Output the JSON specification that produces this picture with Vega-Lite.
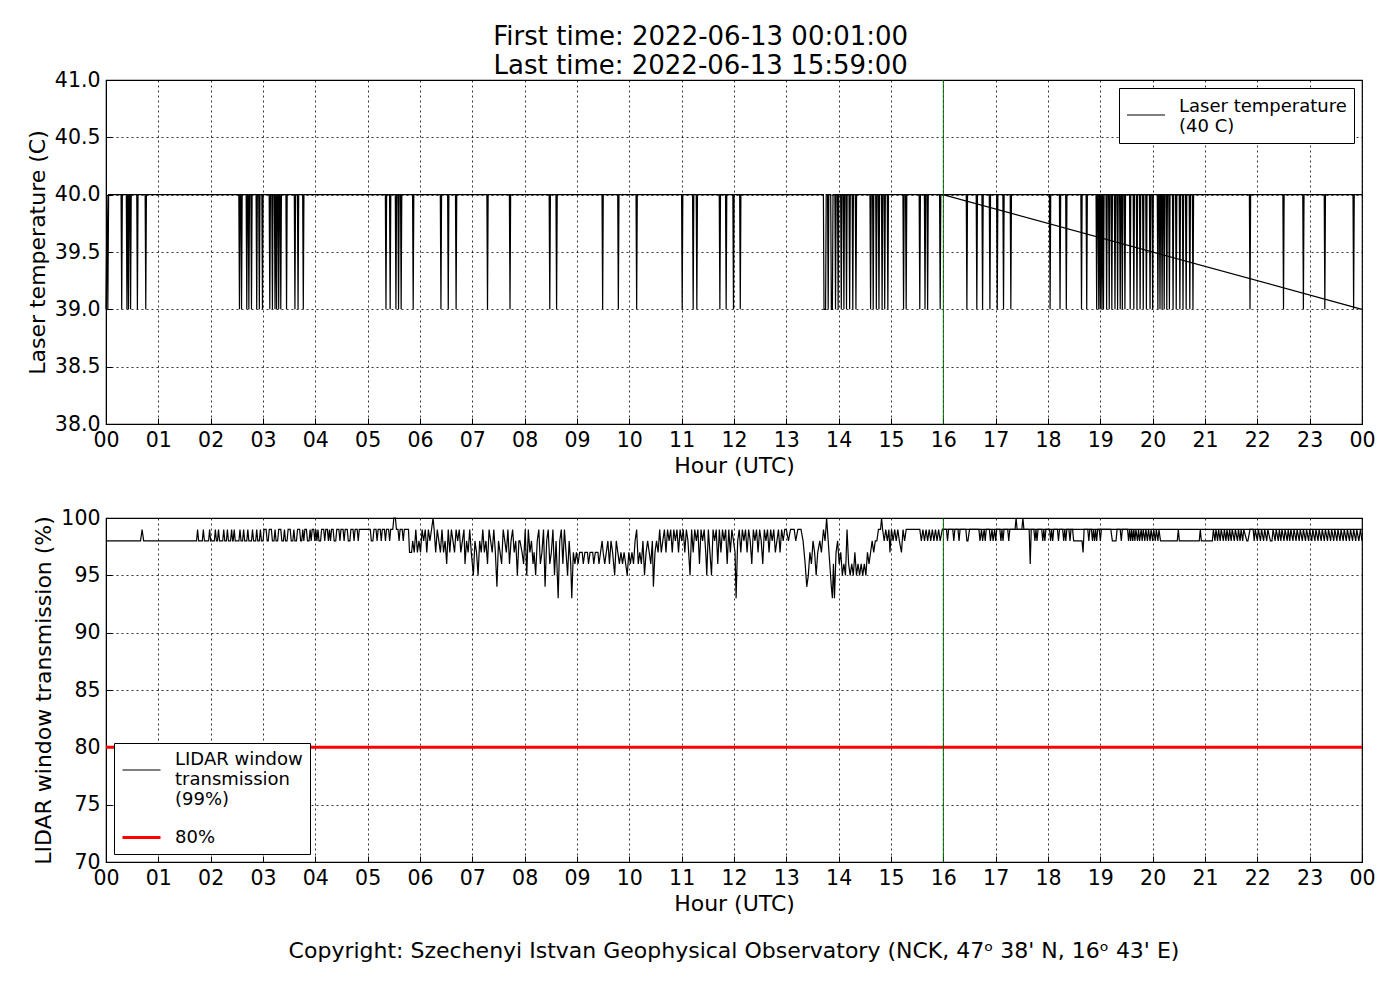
{
  "$schema": "https://vega.github.io/schema/vega-lite/v6.json",
  "background": "white",
  "padding": {"left": 25, "top": 24, "right": 20, "bottom": 10},
  "title": {
    "text": ["First time: 2022-06-13 00:01:00", "Last time: 2022-06-13 15:59:00"],
    "fontSize": 26, "fontWeight": "normal", "font": "DejaVu Sans", "color": "black",
    "anchor": "middle", "lineHeight": 29, "offset": -10
  },
  "config": {
    "font": "DejaVu Sans",
    "view": {"stroke": "black", "strokeWidth": 1.2},
    "axis": {
      "labelFont": "DejaVu Sans", "labelFontSize": 20.5, "labelColor": "black",
      "titleFont": "DejaVu Sans", "titleFontSize": 22, "titleFontWeight": "normal", "titleColor": "black",
      "domainColor": "black", "tickColor": "black", "tickSize": -6, "labelPadding": 12,
      "gridColor": "black", "gridDash": [2, 3], "gridWidth": 0.8, "gridOpacity": 1,
      "labelFlush": false, "labelOverlap": false, "titlePadding": 5
    },
    "legend": {
      "labelFont": "DejaVu Sans", "labelFontSize": 18, "labelColor": "black",
      "strokeColor": "black", "fillColor": "white", "padding": 7, "cornerRadius": 0,
      "labelLimit": 400, "title": null, "offset": 8, "rowPadding": 8
    }
  },
  "resolve": {"scale": {"color": "independent", "strokeWidth": "independent"}, "legend": {"color": "independent", "strokeWidth": "independent"}},
  "spacing": 29,
  "datasets": {
    "temp": [
      {"h":0,"v":39},{"h":0.02,"v":40},{"h":0.035,"v":39},{"h":0.05,"v":40},
      {"h":0.288,"v":40},{"h":0.30,"v":39},{"h":0.312,"v":40},
      {"h":0.388,"v":40},{"h":0.40,"v":39},{"h":0.412,"v":40},
      {"h":0.418,"v":40},{"h":0.43,"v":39},{"h":0.442,"v":40},
      {"h":0.458,"v":40},{"h":0.47,"v":39},{"h":0.482,"v":40},
      {"h":0.588,"v":40},{"h":0.60,"v":39},{"h":0.612,"v":40},
      {"h":0.748,"v":40},{"h":0.76,"v":39},{"h":0.772,"v":40},
      {"h":2.538,"v":40},{"h":2.55,"v":39},{"h":2.562,"v":40},
      {"h":2.578,"v":40},{"h":2.59,"v":39},{"h":2.602,"v":40},
      {"h":2.678,"v":40},{"h":2.69,"v":39},{"h":2.702,"v":40},
      {"h":2.718,"v":40},{"h":2.73,"v":39},{"h":2.742,"v":40},
      {"h":2.768,"v":40},{"h":2.78,"v":39},{"h":2.792,"v":40},
      {"h":2.868,"v":40},{"h":2.88,"v":39},{"h":2.892,"v":40},
      {"h":2.918,"v":40},{"h":2.93,"v":39},{"h":2.942,"v":40},
      {"h":2.978,"v":40},{"h":2.99,"v":39},{"h":3.002,"v":40},
      {"h":3.118,"v":40},{"h":3.13,"v":39},{"h":3.142,"v":40},
      {"h":3.168,"v":40},{"h":3.18,"v":39},{"h":3.192,"v":40},
      {"h":3.218,"v":40},{"h":3.23,"v":39},{"h":3.242,"v":40},
      {"h":3.248,"v":40},{"h":3.26,"v":39},{"h":3.272,"v":40},
      {"h":3.288,"v":40},{"h":3.30,"v":39},{"h":3.312,"v":40},
      {"h":3.328,"v":40},{"h":3.34,"v":39},{"h":3.352,"v":40},
      {"h":3.438,"v":40},{"h":3.45,"v":39},{"h":3.462,"v":40},
      {"h":3.598,"v":40},{"h":3.61,"v":39},{"h":3.622,"v":40},
      {"h":3.658,"v":40},{"h":3.67,"v":39},{"h":3.682,"v":40},
      {"h":3.758,"v":40},{"h":3.77,"v":39},{"h":3.782,"v":40},
      {"h":5.338,"v":40},{"h":5.35,"v":39},{"h":5.362,"v":40},
      {"h":5.418,"v":40},{"h":5.43,"v":39},{"h":5.442,"v":40},
      {"h":5.528,"v":40},{"h":5.54,"v":39},{"h":5.552,"v":40},
      {"h":5.578,"v":40},{"h":5.59,"v":39},{"h":5.602,"v":40},
      {"h":5.628,"v":40},{"h":5.64,"v":39},{"h":5.652,"v":40},
      {"h":5.858,"v":40},{"h":5.87,"v":39},{"h":5.882,"v":40},
      {"h":6.388,"v":40},{"h":6.40,"v":39},{"h":6.412,"v":40},
      {"h":6.528,"v":40},{"h":6.54,"v":39},{"h":6.552,"v":40},
      {"h":6.678,"v":40},{"h":6.69,"v":39},{"h":6.702,"v":40},
      {"h":7.278,"v":40},{"h":7.29,"v":39},{"h":7.302,"v":40},
      {"h":7.708,"v":40},{"h":7.72,"v":39},{"h":7.732,"v":40},
      {"h":8.468,"v":40},{"h":8.48,"v":39},{"h":8.492,"v":40},
      {"h":8.598,"v":40},{"h":8.61,"v":39},{"h":8.622,"v":40},
      {"h":9.478,"v":40},{"h":9.49,"v":39},{"h":9.502,"v":40},
      {"h":9.778,"v":40},{"h":9.79,"v":39},{"h":9.802,"v":40},
      {"h":10.128,"v":40},{"h":10.14,"v":39},{"h":10.152,"v":40},
      {"h":10.998,"v":40},{"h":11.01,"v":39},{"h":11.022,"v":40},
      {"h":11.208,"v":40},{"h":11.22,"v":39},{"h":11.232,"v":40},
      {"h":11.278,"v":40},{"h":11.29,"v":39},{"h":11.302,"v":40},
      {"h":11.718,"v":40},{"h":11.73,"v":39},{"h":11.742,"v":40},
      {"h":11.838,"v":40},{"h":11.85,"v":39},{"h":11.862,"v":40},
      {"h":11.978,"v":40},{"h":11.99,"v":39},{"h":12.002,"v":40},
      {"h":12.108,"v":40},{"h":12.12,"v":39},{"h":12.132,"v":40},
      {"h":13.708,"v":40},{"h":13.72,"v":39},{"h":13.75,"v":39},{"h":13.762,"v":40},
      {"h":13.788,"v":40},{"h":13.80,"v":39},{"h":13.812,"v":40},
      {"h":13.848,"v":40},{"h":13.86,"v":39},{"h":13.88,"v":39},{"h":13.892,"v":40},
      {"h":13.928,"v":40},{"h":13.94,"v":39},{"h":13.952,"v":40},
      {"h":13.978,"v":40},{"h":13.99,"v":39},{"h":14.002,"v":40},
      {"h":14.038,"v":40},{"h":14.05,"v":39},{"h":14.062,"v":40},
      {"h":14.088,"v":40},{"h":14.10,"v":39},{"h":14.112,"v":40},
      {"h":14.138,"v":40},{"h":14.15,"v":39},{"h":14.162,"v":40},
      {"h":14.198,"v":40},{"h":14.21,"v":39},{"h":14.222,"v":40},
      {"h":14.258,"v":40},{"h":14.27,"v":39},{"h":14.282,"v":40},
      {"h":14.318,"v":40},{"h":14.33,"v":39},{"h":14.342,"v":40},
      {"h":14.598,"v":40},{"h":14.61,"v":39},{"h":14.622,"v":40},
      {"h":14.648,"v":40},{"h":14.66,"v":39},{"h":14.672,"v":40},
      {"h":14.708,"v":40},{"h":14.72,"v":39},{"h":14.732,"v":40},
      {"h":14.758,"v":40},{"h":14.77,"v":39},{"h":14.782,"v":40},
      {"h":14.818,"v":40},{"h":14.83,"v":39},{"h":14.842,"v":40},
      {"h":14.868,"v":40},{"h":14.88,"v":39},{"h":14.892,"v":40},
      {"h":14.928,"v":40},{"h":14.94,"v":39},{"h":14.952,"v":40},
      {"h":15.228,"v":40},{"h":15.24,"v":39},{"h":15.252,"v":40},
      {"h":15.278,"v":40},{"h":15.29,"v":39},{"h":15.302,"v":40},
      {"h":15.538,"v":40},{"h":15.55,"v":39},{"h":15.562,"v":40},
      {"h":15.638,"v":40},{"h":15.65,"v":39},{"h":15.662,"v":40},
      {"h":15.688,"v":40},{"h":15.70,"v":39},{"h":15.712,"v":40},
      {"h":15.928,"v":40},{"h":15.94,"v":39},{"h":15.952,"v":40},
      {"h":16.438,"v":40},{"h":16.45,"v":39},{"h":16.462,"v":40},
      {"h":16.628,"v":40},{"h":16.64,"v":39},{"h":16.652,"v":40},
      {"h":16.738,"v":40},{"h":16.75,"v":39},{"h":16.762,"v":40},
      {"h":16.878,"v":40},{"h":16.89,"v":39},{"h":16.902,"v":40},
      {"h":17.018,"v":40},{"h":17.03,"v":39},{"h":17.042,"v":40},
      {"h":17.138,"v":40},{"h":17.15,"v":39},{"h":17.162,"v":40},
      {"h":17.278,"v":40},{"h":17.29,"v":39},{"h":17.302,"v":40},
      {"h":18.028,"v":40},{"h":18.04,"v":39},{"h":18.052,"v":40},
      {"h":18.218,"v":40},{"h":18.23,"v":39},{"h":18.242,"v":40},
      {"h":18.338,"v":40},{"h":18.35,"v":39},{"h":18.362,"v":40},
      {"h":18.628,"v":40},{"h":18.64,"v":39},{"h":18.652,"v":40},
      {"h":18.728,"v":40},{"h":18.74,"v":39},{"h":18.752,"v":40},
      {"h":18.918,"v":40},{"h":18.93,"v":39},{"h":18.942,"v":40},
      {"h":18.958,"v":40},{"h":18.97,"v":39},{"h":18.982,"v":40},
      {"h":18.988,"v":40},{"h":19.00,"v":39},{"h":19.012,"v":40},
      {"h":19.018,"v":40},{"h":19.03,"v":39},{"h":19.042,"v":40},
      {"h":19.048,"v":40},{"h":19.06,"v":39},{"h":19.072,"v":40},
      {"h":19.108,"v":40},{"h":19.12,"v":39},{"h":19.132,"v":40},
      {"h":19.158,"v":40},{"h":19.17,"v":39},{"h":19.182,"v":40},
      {"h":19.208,"v":40},{"h":19.22,"v":39},{"h":19.232,"v":40},
      {"h":19.268,"v":40},{"h":19.28,"v":39},{"h":19.292,"v":40},
      {"h":19.318,"v":40},{"h":19.33,"v":39},{"h":19.342,"v":40},
      {"h":19.368,"v":40},{"h":19.38,"v":39},{"h":19.392,"v":40},
      {"h":19.408,"v":40},{"h":19.42,"v":39},{"h":19.432,"v":40},
      {"h":19.458,"v":40},{"h":19.47,"v":39},{"h":19.482,"v":40},
      {"h":19.558,"v":40},{"h":19.57,"v":39},{"h":19.582,"v":40},
      {"h":19.628,"v":40},{"h":19.64,"v":39},{"h":19.652,"v":40},
      {"h":19.688,"v":40},{"h":19.70,"v":39},{"h":19.712,"v":40},
      {"h":19.748,"v":40},{"h":19.76,"v":39},{"h":19.772,"v":40},
      {"h":19.808,"v":40},{"h":19.82,"v":39},{"h":19.832,"v":40},
      {"h":19.868,"v":40},{"h":19.88,"v":39},{"h":19.892,"v":40},
      {"h":19.938,"v":40},{"h":19.95,"v":39},{"h":19.962,"v":40},
      {"h":19.988,"v":40},{"h":20.00,"v":39},{"h":20.012,"v":40},
      {"h":20.088,"v":40},{"h":20.10,"v":39},{"h":20.112,"v":40},
      {"h":20.128,"v":40},{"h":20.14,"v":39},{"h":20.152,"v":40},
      {"h":20.168,"v":40},{"h":20.18,"v":39},{"h":20.192,"v":40},
      {"h":20.208,"v":40},{"h":20.22,"v":39},{"h":20.232,"v":40},
      {"h":20.258,"v":40},{"h":20.27,"v":39},{"h":20.282,"v":40},
      {"h":20.308,"v":40},{"h":20.32,"v":39},{"h":20.332,"v":40},
      {"h":20.378,"v":40},{"h":20.39,"v":39},{"h":20.402,"v":40},
      {"h":20.438,"v":40},{"h":20.45,"v":39},{"h":20.462,"v":40},
      {"h":20.508,"v":40},{"h":20.52,"v":39},{"h":20.532,"v":40},
      {"h":20.568,"v":40},{"h":20.58,"v":39},{"h":20.592,"v":40},
      {"h":20.628,"v":40},{"h":20.64,"v":39},{"h":20.652,"v":40},
      {"h":20.698,"v":40},{"h":20.71,"v":39},{"h":20.722,"v":40},
      {"h":20.758,"v":40},{"h":20.77,"v":39},{"h":20.782,"v":40},
      {"h":21.848,"v":40},{"h":21.86,"v":39},{"h":21.872,"v":40},
      {"h":22.488,"v":40},{"h":22.50,"v":39},{"h":22.512,"v":40},
      {"h":22.868,"v":40},{"h":22.88,"v":39},{"h":22.892,"v":40},
      {"h":23.278,"v":40},{"h":23.29,"v":39},{"h":23.302,"v":40},
      {"h":23.828,"v":40},{"h":23.84,"v":39},{"h":23.852,"v":40},
      {"h":24,"v":40}
    ],
    "tempwrap": [
      {"h":15.99,"v":40,"s":"Laser temperature (40 C)"},
      {"h":24,"v":39,"s":"Laser temperature (40 C)"}
    ],
    "lidar": [
      {"h":0,"v":98},{"h":0.66,"v":98},{"h":0.69,"v":99},{"h":0.72,"v":98},{"h":1.70,"v":98},
      {"h":1.73,"v":98},{"h":1.75,"v":99},{"h":1.77,"v":98},{"h":1.84,"v":98},{"h":1.86,"v":99},{"h":1.88,"v":98},
      {"h":1.96,"v":98},{"h":1.98,"v":99},{"h":2.00,"v":98},{"h":2.07,"v":98},{"h":2.09,"v":99},{"h":2.11,"v":98},
      {"h":2.13,"v":98},{"h":2.15,"v":99},{"h":2.17,"v":98},{"h":2.23,"v":98},{"h":2.25,"v":99},{"h":2.27,"v":98},
      {"h":2.30,"v":98},{"h":2.32,"v":99},{"h":2.34,"v":98},{"h":2.38,"v":98},{"h":2.40,"v":99},{"h":2.42,"v":98},
      {"h":2.43,"v":98},{"h":2.45,"v":99},{"h":2.47,"v":98},{"h":2.54,"v":98},{"h":2.56,"v":99},{"h":2.58,"v":98},
      {"h":2.61,"v":98},{"h":2.63,"v":99},{"h":2.65,"v":98},{"h":2.69,"v":98},{"h":2.71,"v":99},{"h":2.73,"v":98},
      {"h":2.78,"v":98},{"h":2.80,"v":99},{"h":2.82,"v":98},{"h":2.86,"v":98},{"h":2.88,"v":99},{"h":2.90,"v":98},
      {"h":2.93,"v":98},{"h":2.95,"v":99},{"h":2.97,"v":98},
      {"h":3.00,"v":98},{"h":3.02,"v":99},{"h":3.06,"v":99},{"h":3.08,"v":98},{"h":3.10,"v":98},{"h":3.12,"v":99},
      {"h":3.16,"v":99},{"h":3.18,"v":98},{"h":3.21,"v":98},{"h":3.23,"v":99},{"h":3.25,"v":98},{"h":3.28,"v":98},
      {"h":3.30,"v":99},{"h":3.34,"v":99},{"h":3.36,"v":98},{"h":3.39,"v":98},{"h":3.41,"v":99},{"h":3.43,"v":98},
      {"h":3.46,"v":98},{"h":3.48,"v":99},{"h":3.52,"v":99},{"h":3.54,"v":98},{"h":3.57,"v":98},{"h":3.59,"v":99},
      {"h":3.61,"v":98},{"h":3.64,"v":98},{"h":3.66,"v":99},{"h":3.70,"v":99},{"h":3.72,"v":98},{"h":3.74,"v":98},
      {"h":3.76,"v":99},{"h":3.78,"v":98},{"h":3.80,"v":99},{"h":3.83,"v":99},{"h":3.85,"v":98},{"h":3.88,"v":98},
      {"h":3.90,"v":99},{"h":3.92,"v":98},{"h":3.94,"v":99},{"h":3.97,"v":99},{"h":3.99,"v":98},{"h":4.01,"v":99},
      {"h":4.03,"v":98},{"h":4.05,"v":99},{"h":4.07,"v":98},{"h":4.10,"v":98},{"h":4.12,"v":99},{"h":4.16,"v":99},
      {"h":4.18,"v":98},{"h":4.20,"v":99},{"h":4.23,"v":99},{"h":4.25,"v":98},{"h":4.27,"v":99},{"h":4.29,"v":98},
      {"h":4.31,"v":99},{"h":4.34,"v":99},{"h":4.36,"v":98},{"h":4.39,"v":98},{"h":4.41,"v":99},{"h":4.45,"v":99},
      {"h":4.47,"v":98},{"h":4.49,"v":99},{"h":4.53,"v":99},{"h":4.55,"v":98},{"h":4.57,"v":99},{"h":4.61,"v":99},
      {"h":4.63,"v":98},{"h":4.66,"v":98},{"h":4.68,"v":99},{"h":4.72,"v":99},{"h":4.74,"v":98},{"h":4.76,"v":99},
      {"h":4.80,"v":99},{"h":4.82,"v":98},{"h":4.84,"v":99},{"h":5.05,"v":99},{"h":5.07,"v":98},{"h":5.10,"v":98},
      {"h":5.12,"v":99},{"h":5.16,"v":99},{"h":5.18,"v":98},{"h":5.20,"v":99},{"h":5.24,"v":99},{"h":5.26,"v":98},
      {"h":5.28,"v":99},{"h":5.32,"v":99},{"h":5.34,"v":98},{"h":5.36,"v":99},{"h":5.40,"v":99},{"h":5.42,"v":98},
      {"h":5.44,"v":99},{"h":5.48,"v":99},{"h":5.50,"v":100},{"h":5.53,"v":100},{"h":5.55,"v":99},{"h":5.58,"v":99},
      {"h":5.60,"v":98},{"h":5.62,"v":99},{"h":5.66,"v":99},{"h":5.68,"v":98},{"h":5.70,"v":99},{"h":5.74,"v":99},
      {"h":5.78,"v":99},{"h":5.80,"v":97},{"h":5.84,"v":97},{"h":5.86,"v":98},{"h":5.89,"v":97},{"h":5.92,"v":99},
      {"h":5.95,"v":97},{"h":5.98,"v":98},{"h":6.01,"v":97},{"h":6.04,"v":99},{"h":6.07,"v":98},{"h":6.10,"v":99},
      {"h":6.13,"v":97},{"h":6.16,"v":99},{"h":6.19,"v":98},{"h":6.22,"v":99},{"h":6.25,"v":100},{"h":6.27,"v":99},
      {"h":6.30,"v":97},{"h":6.33,"v":99},{"h":6.36,"v":98},{"h":6.39,"v":97},{"h":6.42,"v":99},{"h":6.45,"v":97},
      {"h":6.48,"v":98},{"h":6.51,"v":96},{"h":6.54,"v":99},{"h":6.57,"v":97},{"h":6.60,"v":99},{"h":6.63,"v":98},
      {"h":6.66,"v":97},{"h":6.69,"v":99},{"h":6.72,"v":98},{"h":6.75,"v":99},{"h":6.78,"v":97},{"h":6.81,"v":98},
      {"h":6.84,"v":99},{"h":6.86,"v":96},{"h":6.89,"v":98},{"h":6.92,"v":97},{"h":6.95,"v":99},{"h":6.98,"v":97},
      {"h":7.02,"v":95},{"h":7.05,"v":98},{"h":7.08,"v":97},{"h":7.11,"v":95},{"h":7.14,"v":98},{"h":7.17,"v":97},
      {"h":7.20,"v":99},{"h":7.23,"v":97},{"h":7.26,"v":98},{"h":7.29,"v":96},{"h":7.32,"v":99},{"h":7.35,"v":98},
      {"h":7.38,"v":97},{"h":7.41,"v":99},{"h":7.44,"v":97},{"h":7.47,"v":94},{"h":7.50,"v":98},{"h":7.53,"v":97},
      {"h":7.56,"v":96},{"h":7.59,"v":99},{"h":7.62,"v":98},{"h":7.65,"v":97},{"h":7.68,"v":99},{"h":7.71,"v":96},
      {"h":7.74,"v":98},{"h":7.77,"v":99},{"h":7.80,"v":97},{"h":7.83,"v":98},{"h":7.86,"v":95},{"h":7.89,"v":98},
      {"h":7.91,"v":98},{"h":7.95,"v":97},{"h":7.98,"v":96},{"h":8.01,"v":99},{"h":8.04,"v":95},{"h":8.07,"v":99},
      {"h":8.10,"v":97},{"h":8.13,"v":98},{"h":8.16,"v":96},{"h":8.18,"v":97},{"h":8.21,"v":95},{"h":8.24,"v":98},
      {"h":8.27,"v":99},{"h":8.30,"v":96},{"h":8.33,"v":97},{"h":8.36,"v":99},{"h":8.39,"v":94},{"h":8.42,"v":98},
      {"h":8.45,"v":99},{"h":8.48,"v":96},{"h":8.51,"v":97},{"h":8.54,"v":99},{"h":8.57,"v":95},{"h":8.60,"v":98},
      {"h":8.64,"v":93},{"h":8.67,"v":98},{"h":8.70,"v":99},{"h":8.73,"v":96},{"h":8.76,"v":99},{"h":8.79,"v":97},
      {"h":8.82,"v":95},{"h":8.85,"v":98},{"h":8.88,"v":96},{"h":8.90,"v":93},{"h":8.93,"v":97},{"h":8.96,"v":96},
      {"h":8.99,"v":97},{"h":9.02,"v":96},{"h":9.05,"v":97},{"h":9.10,"v":97},{"h":9.12,"v":96},{"h":9.15,"v":97},
      {"h":9.20,"v":97},{"h":9.22,"v":96},{"h":9.25,"v":97},{"h":9.30,"v":97},{"h":9.32,"v":96},{"h":9.35,"v":97},
      {"h":9.40,"v":97},{"h":9.42,"v":96},{"h":9.45,"v":97},{"h":9.48,"v":98},{"h":9.50,"v":97},{"h":9.53,"v":96},
      {"h":9.56,"v":97},{"h":9.59,"v":98},{"h":9.62,"v":96},{"h":9.65,"v":98},{"h":9.68,"v":97},{"h":9.72,"v":95},
      {"h":9.75,"v":98},{"h":9.78,"v":97},{"h":9.81,"v":96},{"h":9.84,"v":97},{"h":9.87,"v":96},{"h":9.90,"v":97},
      {"h":9.93,"v":96},{"h":9.96,"v":95},{"h":9.99,"v":97},{"h":10.02,"v":96},{"h":10.05,"v":97},{"h":10.08,"v":96},
      {"h":10.11,"v":98},{"h":10.14,"v":99},{"h":10.17,"v":96},{"h":10.20,"v":97},{"h":10.23,"v":96},{"h":10.26,"v":98},
      {"h":10.29,"v":95},{"h":10.32,"v":97},{"h":10.35,"v":98},{"h":10.38,"v":97},{"h":10.41,"v":96},{"h":10.44,"v":98},
      {"h":10.46,"v":94},{"h":10.49,"v":97},{"h":10.52,"v":98},{"h":10.55,"v":97},{"h":10.58,"v":99},{"h":10.61,"v":97},
      {"h":10.64,"v":98},{"h":10.67,"v":99},{"h":10.70,"v":97},{"h":10.73,"v":99},{"h":10.76,"v":98},{"h":10.79,"v":99},
      {"h":10.82,"v":97},{"h":10.85,"v":99},{"h":10.88,"v":98},{"h":10.91,"v":99},{"h":10.94,"v":97},{"h":10.97,"v":99},
      {"h":11.00,"v":98},{"h":11.03,"v":99},{"h":11.06,"v":97},{"h":11.09,"v":99},{"h":11.12,"v":98},{"h":11.16,"v":95},
      {"h":11.19,"v":99},{"h":11.22,"v":97},{"h":11.25,"v":99},{"h":11.28,"v":98},{"h":11.31,"v":99},{"h":11.34,"v":96},
      {"h":11.37,"v":99},{"h":11.40,"v":98},{"h":11.43,"v":99},{"h":11.46,"v":97},{"h":11.48,"v":95},{"h":11.51,"v":99},
      {"h":11.54,"v":97},{"h":11.57,"v":95},{"h":11.60,"v":99},{"h":11.63,"v":98},{"h":11.66,"v":99},{"h":11.69,"v":96},
      {"h":11.72,"v":99},{"h":11.75,"v":97},{"h":11.78,"v":99},{"h":11.81,"v":98},{"h":11.84,"v":99},{"h":11.87,"v":96},
      {"h":11.90,"v":99},{"h":11.93,"v":97},{"h":11.96,"v":99},{"h":11.99,"v":98},{"h":12.02,"v":97},{"h":12.04,"v":93},
      {"h":12.07,"v":98},{"h":12.10,"v":99},{"h":12.13,"v":97},{"h":12.16,"v":99},{"h":12.19,"v":98},{"h":12.22,"v":99},
      {"h":12.25,"v":97},{"h":12.28,"v":99},{"h":12.31,"v":98},{"h":12.34,"v":96},{"h":12.37,"v":99},{"h":12.40,"v":98},
      {"h":12.43,"v":99},{"h":12.46,"v":97},{"h":12.49,"v":99},{"h":12.52,"v":98},{"h":12.55,"v":96},{"h":12.58,"v":99},
      {"h":12.61,"v":98},{"h":12.64,"v":99},{"h":12.67,"v":97},{"h":12.70,"v":99},{"h":12.73,"v":98},{"h":12.76,"v":99},
      {"h":12.79,"v":97},{"h":12.82,"v":98},{"h":12.85,"v":99},{"h":12.88,"v":97},{"h":12.91,"v":99},{"h":12.94,"v":98},
      {"h":12.97,"v":99},{"h":13.00,"v":99},{"h":13.04,"v":98},{"h":13.08,"v":99},{"h":13.15,"v":99},{"h":13.18,"v":98},
      {"h":13.22,"v":99},{"h":13.28,"v":99},{"h":13.32,"v":98},{"h":13.36,"v":96},{"h":13.39,"v":94},{"h":13.42,"v":95},
      {"h":13.45,"v":97},{"h":13.48,"v":96},{"h":13.51,"v":98},{"h":13.54,"v":97},{"h":13.57,"v":95},{"h":13.60,"v":97},
      {"h":13.64,"v":98},{"h":13.67,"v":97},{"h":13.71,"v":99},{"h":13.74,"v":98},{"h":13.77,"v":100},{"h":13.80,"v":98},
      {"h":13.83,"v":96},{"h":13.86,"v":94},{"h":13.88,"v":93},{"h":13.90,"v":96},{"h":13.92,"v":93},{"h":13.95,"v":97},
      {"h":13.98,"v":98},{"h":14.01,"v":96},{"h":14.04,"v":97},{"h":14.07,"v":95},{"h":14.10,"v":96},{"h":14.13,"v":95},
      {"h":14.16,"v":99},{"h":14.19,"v":96},{"h":14.22,"v":95},{"h":14.25,"v":96},{"h":14.28,"v":95},{"h":14.31,"v":97},
      {"h":14.34,"v":95},{"h":14.37,"v":96},{"h":14.40,"v":95},{"h":14.43,"v":96},{"h":14.46,"v":95},{"h":14.49,"v":96},
      {"h":14.52,"v":95},{"h":14.55,"v":97},{"h":14.58,"v":96},{"h":14.61,"v":97},{"h":14.64,"v":98},{"h":14.67,"v":97},
      {"h":14.70,"v":98},{"h":14.73,"v":98},{"h":14.76,"v":99},{"h":14.80,"v":99},{"h":14.82,"v":100},{"h":14.84,"v":99},
      {"h":14.87,"v":98},{"h":14.90,"v":99},{"h":14.93,"v":98},{"h":14.96,"v":99},{"h":14.98,"v":97},{"h":15.01,"v":99},
      {"h":15.04,"v":98},{"h":15.07,"v":99},{"h":15.10,"v":98},{"h":15.13,"v":99},{"h":15.16,"v":98},{"h":15.20,"v":97},
      {"h":15.23,"v":99},{"h":15.26,"v":98},{"h":15.29,"v":99},{"h":15.55,"v":99},{"h":15.58,"v":98},{"h":15.61,"v":99},
      {"h":15.64,"v":98},{"h":15.67,"v":99},{"h":15.70,"v":98},{"h":15.73,"v":99},{"h":15.76,"v":98},{"h":15.79,"v":99},
      {"h":15.82,"v":98},{"h":15.85,"v":99},{"h":15.88,"v":98},{"h":15.91,"v":99},{"h":15.94,"v":98},{"h":15.98,"v":99},
      {"h":16.00,"v":99},{"h":16.06,"v":99},{"h":16.08,"v":98},{"h":16.10,"v":99},{"h":16.18,"v":99},{"h":16.20,"v":98},
      {"h":16.22,"v":99},{"h":16.28,"v":99},{"h":16.30,"v":98},{"h":16.32,"v":99},{"h":16.43,"v":99},{"h":16.45,"v":98},
      {"h":16.47,"v":98},{"h":16.50,"v":99},{"h":16.68,"v":99},{"h":16.70,"v":98},{"h":16.73,"v":99},{"h":16.75,"v":98},
      {"h":16.78,"v":99},{"h":16.80,"v":98},{"h":16.82,"v":99},{"h":16.88,"v":99},{"h":16.90,"v":98},{"h":16.93,"v":99},
      {"h":16.95,"v":98},{"h":16.98,"v":99},{"h":17.00,"v":98},{"h":17.02,"v":99},{"h":17.08,"v":99},{"h":17.10,"v":98},
      {"h":17.12,"v":99},{"h":17.14,"v":98},{"h":17.16,"v":99},{"h":17.23,"v":99},{"h":17.25,"v":98},{"h":17.27,"v":99},
      {"h":17.37,"v":99},{"h":17.39,"v":100},{"h":17.41,"v":99},{"h":17.50,"v":99},{"h":17.52,"v":100},{"h":17.54,"v":99},
      {"h":17.64,"v":99},{"h":17.66,"v":96},{"h":17.68,"v":99},{"h":17.73,"v":99},{"h":17.75,"v":98},{"h":17.77,"v":99},
      {"h":17.79,"v":98},{"h":17.81,"v":99},{"h":17.88,"v":99},{"h":17.90,"v":98},{"h":17.92,"v":99},{"h":17.94,"v":98},
      {"h":17.96,"v":99},{"h":18.03,"v":99},{"h":18.05,"v":98},{"h":18.07,"v":99},{"h":18.09,"v":98},{"h":18.11,"v":99},
      {"h":18.18,"v":99},{"h":18.20,"v":98},{"h":18.22,"v":99},{"h":18.28,"v":99},{"h":18.30,"v":98},{"h":18.32,"v":99},
      {"h":18.34,"v":98},{"h":18.36,"v":99},{"h":18.40,"v":99},{"h":18.42,"v":98},{"h":18.44,"v":99},{"h":18.47,"v":99},
      {"h":18.49,"v":98},{"h":18.65,"v":98},{"h":18.67,"v":97},{"h":18.69,"v":99},{"h":18.76,"v":99},{"h":18.78,"v":98},
      {"h":18.80,"v":99},{"h":18.83,"v":99},{"h":18.85,"v":98},{"h":18.87,"v":99},{"h":18.89,"v":98},{"h":18.91,"v":99},
      {"h":18.93,"v":98},{"h":18.95,"v":99},{"h":18.98,"v":99},{"h":19.00,"v":98},{"h":19.02,"v":99},{"h":19.20,"v":99},
      {"h":19.23,"v":98},{"h":19.30,"v":98},{"h":19.32,"v":99},{"h":19.38,"v":99},{"h":19.40,"v":98},{"h":19.42,"v":99},
      {"h":19.52,"v":99},{"h":19.54,"v":98},{"h":19.56,"v":99},{"h":19.58,"v":98},{"h":19.60,"v":99},{"h":19.62,"v":98},
      {"h":19.64,"v":99},{"h":19.66,"v":98},{"h":19.68,"v":99},{"h":19.71,"v":98},{"h":19.73,"v":99},{"h":19.75,"v":98},
      {"h":19.78,"v":99},{"h":19.80,"v":98},{"h":19.82,"v":99},{"h":19.85,"v":98},{"h":19.87,"v":99},{"h":19.90,"v":98},
      {"h":19.92,"v":99},{"h":19.95,"v":98},{"h":19.97,"v":99},{"h":20.00,"v":98},{"h":20.02,"v":99},{"h":20.05,"v":98},
      {"h":20.07,"v":99},{"h":20.10,"v":98},{"h":20.12,"v":99},{"h":20.15,"v":98},{"h":20.18,"v":98},{"h":20.47,"v":98},
      {"h":20.49,"v":99},{"h":20.51,"v":98},{"h":20.89,"v":98},{"h":20.91,"v":99},{"h":20.93,"v":98},{"h":21.14,"v":98},
      {"h":21.16,"v":99},{"h":21.19,"v":98},{"h":21.21,"v":99},{"h":21.24,"v":98},{"h":21.26,"v":99},{"h":21.29,"v":98},
      {"h":21.31,"v":99},{"h":21.35,"v":98},{"h":21.37,"v":99},{"h":21.40,"v":98},{"h":21.42,"v":99},{"h":21.45,"v":98},
      {"h":21.47,"v":99},{"h":21.50,"v":98},{"h":21.52,"v":99},{"h":21.56,"v":98},{"h":21.58,"v":99},{"h":21.62,"v":98},
      {"h":21.64,"v":99},{"h":21.67,"v":98},{"h":21.69,"v":99},{"h":21.72,"v":98},{"h":21.74,"v":99},{"h":21.80,"v":98},
      {"h":21.82,"v":98},{"h":21.86,"v":99},{"h":21.92,"v":99},{"h":21.94,"v":98},{"h":21.96,"v":99},{"h":22.00,"v":98},
      {"h":22.02,"v":99},{"h":22.06,"v":98},{"h":22.08,"v":99},{"h":22.12,"v":98},{"h":22.14,"v":99},{"h":22.18,"v":98},
      {"h":22.20,"v":99},{"h":22.25,"v":98},{"h":22.28,"v":98},{"h":22.30,"v":99},{"h":22.34,"v":98},{"h":22.36,"v":99},
      {"h":22.40,"v":98},{"h":22.42,"v":99},{"h":22.45,"v":98},{"h":22.47,"v":99},{"h":22.51,"v":98},{"h":22.53,"v":99},
      {"h":22.57,"v":98},{"h":22.59,"v":99},{"h":22.62,"v":98},{"h":22.64,"v":99},{"h":22.68,"v":98},{"h":22.70,"v":99},
      {"h":22.74,"v":98},{"h":22.76,"v":99},{"h":22.80,"v":98},{"h":22.82,"v":99},{"h":22.86,"v":98},{"h":22.88,"v":99},
      {"h":22.92,"v":98},{"h":22.94,"v":99},{"h":22.98,"v":98},{"h":23.00,"v":99},{"h":23.04,"v":98},{"h":23.06,"v":99},
      {"h":23.10,"v":98},{"h":23.12,"v":99},{"h":23.16,"v":98},{"h":23.18,"v":99},{"h":23.22,"v":98},{"h":23.24,"v":99},
      {"h":23.28,"v":98},{"h":23.30,"v":99},{"h":23.34,"v":98},{"h":23.36,"v":99},{"h":23.40,"v":98},{"h":23.42,"v":99},
      {"h":23.46,"v":98},{"h":23.48,"v":99},{"h":23.52,"v":98},{"h":23.54,"v":99},{"h":23.58,"v":98},{"h":23.60,"v":99},
      {"h":23.64,"v":98},{"h":23.66,"v":99},{"h":23.70,"v":98},{"h":23.72,"v":99},{"h":23.76,"v":98},{"h":23.78,"v":99},
      {"h":23.82,"v":98},{"h":23.84,"v":99},{"h":23.88,"v":98},{"h":23.90,"v":99},{"h":23.94,"v":98},{"h":23.97,"v":99},
      {"h":24.00,"v":98}
    ],
    "lidarwrap": [
      {"h":15.98,"v":99,"s":"LIDAR window transmission (99%)"},
      {"h":24,"v":99,"s":"LIDAR window transmission (99%)"}
    ],
    "now": [{"h":16}],
    "limit": [{"v":80,"s":"80%"}]
  },
  "vconcat": [
    {
      "width": 1256,
      "height": 344,
      "layer": [
        {
          "data": {"name": "temp"},
          "mark": {"type": "line", "strokeWidth": 1.2, "color": "black"},
          "encoding": {
            "x": {
              "field": "h", "type": "quantitative", "title": "Hour (UTC)",
              "scale": {"domain": [0, 24], "nice": false, "zero": false},
              "axis": {
                "values": [0,1,2,3,4,5,6,7,8,9,10,11,12,13,14,15,16,17,18,19,20,21,22,23,24],
                "labelExpr": "datum.value == 24 ? '00' : (datum.value < 10 ? '0' + datum.value : '' + datum.value)"
              }
            },
            "y": {
              "field": "v", "type": "quantitative", "title": "Laser temperature (C)",
              "scale": {"domain": [38, 41], "nice": false, "zero": false},
              "axis": {"values": [38, 38.5, 39, 39.5, 40, 40.5, 41], "format": ".1f"}
            }
          }
        },
        {
          "data": {"name": "tempwrap"},
          "mark": {"type": "line", "strokeWidth": 1.2},
          "encoding": {
            "x": {"field": "h", "type": "quantitative"},
            "y": {"field": "v", "type": "quantitative"},
            "color": {
              "field": "s", "type": "nominal",
              "scale": {"domain": ["Laser temperature (40 C)"], "range": ["black"]},
              "legend": {
                "orient": "top-right", "symbolType": "stroke", "symbolSize": 1444,
                "symbolStrokeWidth": 1.2, "labelOffset": 13,
                "labelExpr": "['Laser temperature', '(40 C)']",
                "encode": {"labels": {"update": {"dy": {"value": -8}}}}
              }
            }
          }
        },
        {
          "data": {"name": "now"},
          "mark": {"type": "rule", "color": "#006400", "strokeWidth": 1},
          "encoding": {"x": {"field": "h", "type": "quantitative"}}
        }
      ]
    },
    {
      "width": 1256,
      "height": 344,
      "title": {
        "text": "Copyright: Szechenyi Istvan Geophysical Observatory (NCK, 47ᵒ  38' N, 16ᵒ  43' E)",
        "orient": "bottom", "anchor": "middle", "fontSize": 22, "fontWeight": "normal",
        "font": "DejaVu Sans", "color": "black", "offset": 26
      },
      "layer": [
        {
          "data": {"name": "lidar"},
          "mark": {"type": "line", "strokeWidth": 1.2, "color": "black"},
          "encoding": {
            "x": {
              "field": "h", "type": "quantitative", "title": "Hour (UTC)",
              "scale": {"domain": [0, 24], "nice": false, "zero": false},
              "axis": {
                "values": [0,1,2,3,4,5,6,7,8,9,10,11,12,13,14,15,16,17,18,19,20,21,22,23,24],
                "labelExpr": "datum.value == 24 ? '00' : (datum.value < 10 ? '0' + datum.value : '' + datum.value)"
              }
            },
            "y": {
              "field": "v", "type": "quantitative", "title": "LIDAR window transmission (%)",
              "scale": {"domain": [70, 100], "nice": false, "zero": false},
              "axis": {"values": [70, 75, 80, 85, 90, 95, 100], "format": "d"}
            }
          }
        },
        {
          "data": {"name": "lidarwrap"},
          "mark": {"type": "line"},
          "encoding": {
            "x": {"field": "h", "type": "quantitative"},
            "y": {"field": "v", "type": "quantitative"},
            "color": {
              "field": "s", "type": "nominal",
              "scale": {"domain": ["LIDAR window transmission (99%)", "80%"], "range": ["black", "red"]},
              "legend": {
                "orient": "bottom-left", "symbolType": "stroke", "symbolSize": 1444, "labelOffset": 13,
                "labelExpr": "datum.label == '80%' ? '80%' : ['LIDAR window', 'transmission', '(99%)']",
                "encode": {"labels": {"update": {"dy": {"signal": "datum.value == '80%' ? 0 : -10"}}}}
              }
            },
            "strokeWidth": {
              "field": "s", "type": "nominal",
              "scale": {"domain": ["LIDAR window transmission (99%)", "80%"], "range": [1.2, 3]},
              "legend": null
            }
          }
        },
        {
          "data": {"name": "limit"},
          "mark": {"type": "rule"},
          "encoding": {
            "y": {"field": "v", "type": "quantitative"},
            "color": {"field": "s", "type": "nominal"},
            "strokeWidth": {"field": "s", "type": "nominal"}
          }
        },
        {
          "data": {"name": "now"},
          "mark": {"type": "rule", "color": "#006400", "strokeWidth": 1},
          "encoding": {"x": {"field": "h", "type": "quantitative"}}
        }
      ]
    }
  ]
}
